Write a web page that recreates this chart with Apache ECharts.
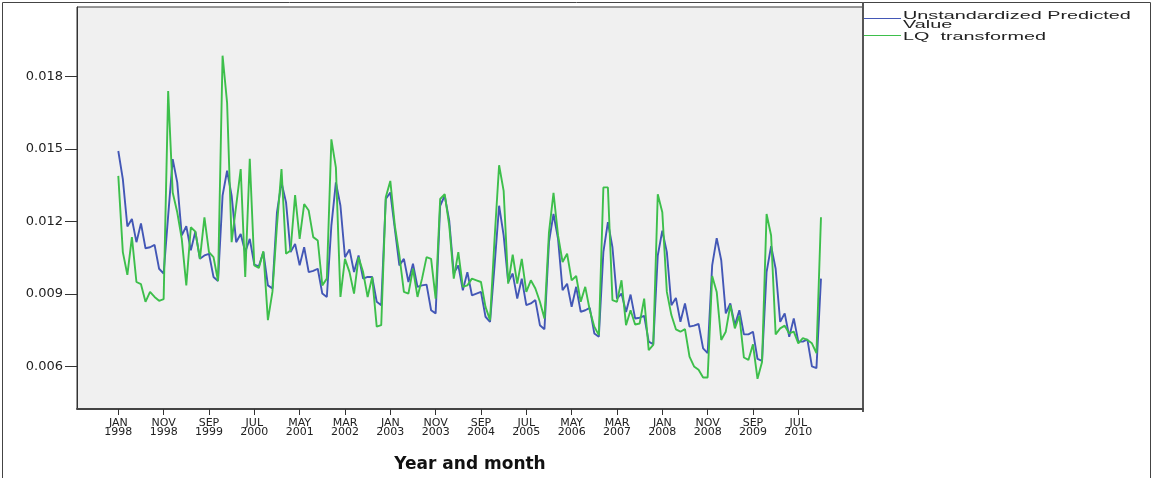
<!DOCTYPE html>
<html>
<head>
<meta charset="utf-8">
<style>
  html, body { margin: 0; padding: 0; background: #fff; }
  #chart { width: 1152px; height: 478px; }
</style>
<script src="https://cdn.jsdelivr.net/npm/echarts@6/dist/echarts.min.js"></script>
</head>
<body>
<div id="chart"></div>
<script>
'use strict';

// monthly values, JAN 1998 .. DEC 2010 (one row per year)
const predicted = [
    0.01492, 0.01375, 0.01179, 0.01210, 0.01114, 0.01192, 0.01089, 0.01093, 0.01103, 0.01004, 0.00984, 0.01224,
    0.01458, 0.01362, 0.01142, 0.01180, 0.01080, 0.01158, 0.01045, 0.01059, 0.01066, 0.00970, 0.00953, 0.01307,
    0.01410, 0.01307, 0.01114, 0.01148, 0.01073, 0.01128, 0.01021, 0.01014, 0.01073, 0.00935, 0.00922, 0.01238,
    0.01362, 0.01279, 0.01073, 0.01107, 0.01018, 0.01093, 0.00990, 0.00995, 0.01004, 0.00901, 0.00887, 0.01183,
    0.01362, 0.01265, 0.01052, 0.01084, 0.00990, 0.01059, 0.00963, 0.00970, 0.00970, 0.00867, 0.00853, 0.01293,
    0.01320, 0.01169, 0.01018, 0.01045, 0.00949, 0.01025, 0.00929, 0.00935, 0.00938, 0.00832, 0.00819, 0.01265,
    0.01307, 0.01203, 0.00984, 0.01018, 0.00915, 0.00990, 0.00894, 0.00901, 0.00908, 0.00805, 0.00784, 0.01018,
    0.01265, 0.01142, 0.00949, 0.00984, 0.00880, 0.00963, 0.00853, 0.00860, 0.00874, 0.00770, 0.00753, 0.01114,
    0.01231, 0.01128, 0.00915, 0.00942, 0.00846, 0.00929, 0.00825, 0.00832, 0.00842, 0.00736, 0.00722, 0.01073,
    0.01197, 0.01093, 0.00880, 0.00901, 0.00825, 0.00897, 0.00798, 0.00801, 0.00809, 0.00702, 0.00691, 0.01059,
    0.01162, 0.01073, 0.00853, 0.00883, 0.00784, 0.00860, 0.00764, 0.00768, 0.00775, 0.00674, 0.00654, 0.01018,
    0.01131, 0.01039, 0.00819, 0.00860, 0.00770, 0.00832, 0.00732, 0.00732, 0.00743, 0.00630, 0.00622, 0.00990,
    0.01098, 0.01004, 0.00784, 0.00819, 0.00722, 0.00798, 0.00702, 0.00702, 0.00711, 0.00599, 0.00592, 0.00963
];

const lqTransformed = [
    0.01389, 0.01073, 0.00979, 0.01135, 0.00949, 0.00940, 0.00867, 0.00908, 0.00887, 0.00871, 0.00878, 0.01740,
    0.01320, 0.01238, 0.01128, 0.00935, 0.01176, 0.01158, 0.01045, 0.01217, 0.01073, 0.01052, 0.00953, 0.01887,
    0.01691, 0.01114, 0.01265, 0.01417, 0.00970, 0.01460, 0.01018, 0.01007, 0.01076, 0.00791, 0.00908, 0.01183,
    0.01417, 0.01066, 0.01080, 0.01309, 0.01128, 0.01272, 0.01245, 0.01135, 0.01121, 0.00935, 0.00963, 0.01540,
    0.01423, 0.00887, 0.01045, 0.00990, 0.00901, 0.01052, 0.00990, 0.00887, 0.00970, 0.00764, 0.00770, 0.01300,
    0.01368, 0.01183, 0.01059, 0.00908, 0.00901, 0.01004, 0.00887, 0.00963, 0.01052, 0.01045, 0.00880, 0.01293,
    0.01313, 0.01183, 0.00963, 0.01073, 0.00929, 0.00935, 0.00963, 0.00956, 0.00949, 0.00846, 0.00791, 0.01128,
    0.01433, 0.01327, 0.00942, 0.01062, 0.00942, 0.01045, 0.00908, 0.00956, 0.00922, 0.00867, 0.00798, 0.01155,
    0.01318, 0.01142, 0.01032, 0.01066, 0.00956, 0.00974, 0.00867, 0.00929, 0.00832, 0.00764, 0.00729, 0.01341,
    0.01341, 0.00874, 0.00867, 0.00956, 0.00770, 0.00832, 0.00773, 0.00777, 0.00880, 0.00667, 0.00688, 0.01313,
    0.01238, 0.00908, 0.00812, 0.00753, 0.00743, 0.00754, 0.00640, 0.00599, 0.00585, 0.00553, 0.00553, 0.00974,
    0.00908, 0.00709, 0.00743, 0.00853, 0.00757, 0.00809, 0.00636, 0.00626, 0.00691, 0.00548, 0.00617, 0.01231,
    0.01142, 0.00732, 0.00757, 0.00768, 0.00736, 0.00743, 0.00695, 0.00716, 0.00709, 0.00695, 0.00654, 0.01217
];

// a labelled tick every 10 months (month index counted from JAN 1998)
const tickMonths = [0, 10, 20, 30, 40, 50, 60, 70, 80, 90, 100, 110, 120, 130, 140, 150];
const tickLabels = [
    'JAN\n1998', 'NOV\n1998', 'SEP\n1999', 'JUL\n2000', 'MAY\n2001', 'MAR\n2002', 'JAN\n2003', 'NOV\n2003',
    'SEP\n2004', 'JUL\n2005', 'MAY\n2006', 'MAR\n2007', 'JAN\n2008', 'NOV\n2008', 'SEP\n2009', 'JUL\n2010'
];
const yTicks = [0.006, 0.009, 0.012, 0.015, 0.018];

const seriesNames = ['Unstandardized Predicted Value', 'LQ transformed'];
const blue  = '#4357b6';
const green = '#3dbf4b';

const chart = echarts.init(document.getElementById('chart'));

const legendFont = '11px "Liberation Sans", Arial, sans-serif';

chart.setOption({
    animation: false,
    backgroundColor: '#fff',
    grid: {
        left: 77, top: 7, width: 786, height: 404,
        show: true,
        backgroundColor: '#f0f0f0',
        borderColor: '#333',
        borderWidth: 1
    },
    xAxis: {
        type: 'value',
        min: -9.11,
        max: 164.27,
        splitLine: {show: false},
        axisLine: {show: true, onZero: false, lineStyle: {color: '#444', width: 2}},
        axisTick: {show: true, customValues: tickMonths, length: 6, lineStyle: {color: '#333'}},
        axisLabel: {
            customValues: tickMonths,
            formatter: v => tickLabels[tickMonths.indexOf(v)] || '',
            color: '#222',
            fontFamily: 'DejaVu Sans',
            fontSize: 11,
            lineHeight: 9.5,
            margin: 9
        },
        name: 'Year and month',
        nameLocation: 'middle',
        nameGap: 47,
        nameTextStyle: {
            color: '#111',
            fontFamily: 'DejaVu Sans',
            fontWeight: 'bold',
            fontSize: 17
        }
    },
    yAxis: {
        type: 'value',
        min: 0.004227,
        max: 0.020887,
        splitLine: {show: false},
        axisLine: {show: true, onZero: false, lineStyle: {color: '#333', width: 1}},
        axisTick: {customValues: yTicks, length: 12, lineStyle: {color: '#333'}},
        axisLabel: {
            customValues: yTicks,
            formatter: v => v.toFixed(3),
            color: '#222',
            fontFamily: 'DejaVu Sans',
            fontSize: 13,
            margin: 14
        }
    },
    series: [
        {
            name: seriesNames[0],
            type: 'line',
            symbol: 'none',
            color: blue,
            lineStyle: {width: 1.9, color: blue},
            data: predicted.map((v, i) => [i, v])
        },
        {
            name: seriesNames[1],
            type: 'line',
            symbol: 'none',
            color: green,
            lineStyle: {width: 1.9, color: green},
            data: lqTransformed.map((v, i) => [i, v])
        }
    ],
    graphic: [
        // outer frame
        {type: 'rect', shape: {x: 2.5, y: 2.5, width: 1148, height: 520},
            style: {fill: null, stroke: '#444', lineWidth: 1}, silent: true},
        // heavy right edge of the plot box, running up to the frame
        {type: 'line', shape: {x1: 863, y1: 2, x2: 863, y2: 412},
            style: {stroke: '#555', lineWidth: 2}, silent: true},
        // legend
        {type: 'line', shape: {x1: 864, y1: 18.5, x2: 901, y2: 18.5},
            style: {stroke: blue, lineWidth: 1}, silent: true},
        {type: 'text', x: 903, y: 15.5, scaleX: 1.8,
            style: {text: 'Unstandardized Predicted', font: legendFont, fill: '#222', verticalAlign: 'middle'}},
        {type: 'text', x: 903, y: 24.5, scaleX: 1.8,
            style: {text: 'Value', font: legendFont, fill: '#222', verticalAlign: 'middle'}},
        {type: 'line', shape: {x1: 864, y1: 35.5, x2: 901, y2: 35.5},
            style: {stroke: green, lineWidth: 1}, silent: true},
        {type: 'text', x: 903, y: 36.5, scaleX: 1.8,
            style: {text: 'LQ  transformed', font: legendFont, fill: '#222', verticalAlign: 'middle'}}
    ]
});
</script>
</body>
</html>
